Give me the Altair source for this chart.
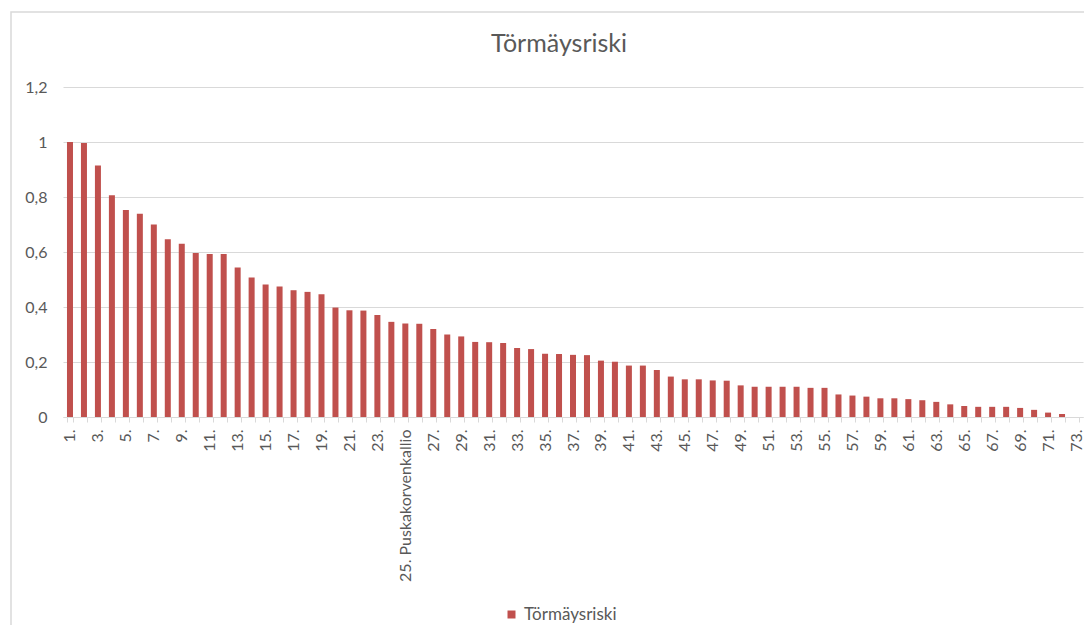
import altair as alt
import pandas as pd

series_name = "Törmäysriski"

categories = [f"{i}." for i in range(1, 74)]
categories[24] = "25. Puskakorvenkallio"

values = [
    1.000, 0.996, 0.915, 0.806, 0.753, 0.739, 0.700, 0.646, 0.630, 0.596,
    0.593, 0.593, 0.544, 0.507, 0.482, 0.475, 0.461, 0.455, 0.446, 0.398,
    0.388, 0.387, 0.371, 0.346, 0.340, 0.339, 0.320, 0.300, 0.293, 0.273,
    0.272, 0.269, 0.251, 0.247, 0.230, 0.229, 0.226, 0.225, 0.205, 0.201,
    0.187, 0.187, 0.171, 0.147, 0.137, 0.137, 0.133, 0.132, 0.115, 0.110,
    0.110, 0.110, 0.110, 0.106, 0.106, 0.082, 0.078, 0.074, 0.068, 0.068,
    0.065, 0.061, 0.055, 0.046, 0.040, 0.037, 0.037, 0.037, 0.033, 0.026,
    0.016, 0.011, 0.000,
]

y_ticks = [0, 0.2, 0.4, 0.6, 0.8, 1, 1.2]

df = pd.DataFrame({"kohde": categories, "arvo": values, "sarja": series_name})

FONT = "Lato"
TEXT = "#595959"
GRID = "#d9d9d9"
BAR = "#C0504D"

bars = alt.Chart(df).mark_bar().encode(
    x=alt.X(
        "kohde:N",
        sort=categories,
        scale=alt.Scale(paddingInner=0.57, paddingOuter=0.285),
        axis=alt.Axis(
            title=None,
            labelAngle=270,
            labelExpr="parseInt(datum.value) % 2 == 1 ? datum.value : ''",
            labelFont=FONT,
            labelFontSize=16,
            labelColor=TEXT,
            labelPadding=7,
            tickBand="extent",
            tickColor=GRID,
            tickSize=5,
            domainColor=GRID,
            grid=False,
            labelOverlap=False,
        ),
    ),
    y=alt.Y(
        "arvo:Q",
        scale=alt.Scale(domain=[0, 1.2], nice=False),
        axis=alt.Axis(
            title=None,
            values=y_ticks,
            labelExpr="replace(format(datum.value, '~g'), '.', ',')",
            labelFont=FONT,
            labelFontSize=16,
            labelColor=TEXT,
            labelPadding=16,
            ticks=False,
            domain=False,
            gridColor=GRID,
            gridWidth=1.2,
        ),
    ),
    color=alt.Color(
        "sarja:N",
        scale=alt.Scale(range=[BAR]),
        legend=alt.Legend(
            title=None,
            orient="none",
            legendX=440,
            legendY=519,
            symbolType="square",
            symbolSize=64,
            symbolStrokeWidth=0,
            labelFont=FONT,
            labelFontSize=17,
            labelColor=TEXT,
            labelOffset=4,
            padding=0,
        ),
    ),
)

frame = alt.Chart(df).mark_rect(fill=None, stroke=GRID, strokeWidth=1.5).encode(
    x=alt.value(-52), x2=alt.value(1100), y=alt.value(-75), y2=alt.value(700)
).transform_filter("datum.kohde == '1.'")

chart = alt.layer(bars, frame).properties(
    width=1020,
    height=330,
    padding={"left": 55, "top": 79, "right": 1, "bottom": 208},
    autosize=alt.AutoSizeParams(type="none"),
    title=alt.TitleParams(
        text="Törmäysriski",
        font=FONT,
        fontSize=25,
        fontWeight="normal",
        color=TEXT,
        anchor="middle",
        frame="group",
        dx=-14,
        offset=-66,
        baseline="alphabetic",
    ),
).configure_view(stroke=None)

chart.save("out.html", embed_options={"renderer": "svg", "actions": False})
